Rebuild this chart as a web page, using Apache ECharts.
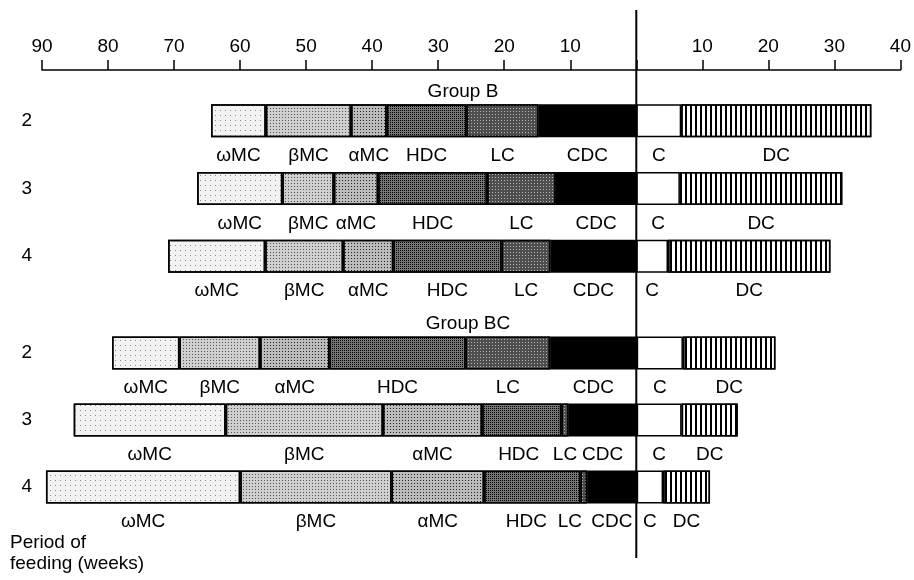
<!DOCTYPE html>
<html lang="en">
<head>
<meta charset="UTF-8">
<title>Period of feeding</title>
<style>
    html, body {
        margin: 0;
        padding: 0;
        background: #fff;
    }
    #main {
        width: 914px;
        height: 580px;
    }
</style>
</head>
<body>
<div id="main"></div>
<script src="https://cdn.jsdelivr.net/npm/echarts@6/dist/echarts.min.js"></script>
<script>
    // period of feeding (weeks) for each row of a group
    var rows = ['2', '3', '4'];
    var groups = ['Group B', 'Group BC'];
    // stages, left ones counted back from 0, right ones forward from 0
    var stages = ['ωMC', 'βMC', 'αMC', 'HDC', 'LC', 'CDC', 'C', 'DC'];
    var leftStages = ['ωMC', 'βMC', 'αMC', 'HDC', 'LC', 'CDC'];

    // length of every stage (weeks), in the order of stages
    var groupB2 = [8.3, 12.9, 5.4, 12.1, 10.9, 14.8, 6.8, 28.8];
    var groupB3 = [12.9, 7.8, 6.7, 16.5, 10.4, 12.2, 6.6, 24.6];
    var groupB4 = [14.7, 11.8, 7.6, 16.4, 7.4, 13.0, 4.8, 24.6];
    var groupBC2 = [10.2, 12.2, 10.5, 20.6, 12.8, 13.1, 7.0, 14.0];
    var groupBC3 = [23.0, 23.8, 15.0, 12.0, 1.1, 10.3, 6.8, 8.5];
    var groupBC4 = [29.4, 22.9, 14.0, 14.6, 1.0, 7.5, 4.0, 7.1];

    var groupRows = [[groupB2, groupB3, groupB4], [groupBC2, groupBC3, groupBC4]];

    var FONT = 'Liberation Sans, Arial, sans-serif';
    var FS = 19;

    // fill + texture of each stage
    var looks = {
        'ωMC': { color: '#f2f2f2', decal: { symbol: 'rect', symbolSize: 1, color: '#8a8a8a', dashArrayX: [1, 4], dashArrayY: [1, 4] } },
        'βMC': { color: '#cfcfcf', decal: { symbol: 'rect', symbolSize: 1, color: '#555', dashArrayX: [1, 2], dashArrayY: [1, 2] } },
        'αMC': { color: '#bcbcbc', decal: { symbol: 'rect', symbolSize: 1, color: '#222', dashArrayX: [1, 1.5], dashArrayY: [1, 1.5] } },
        'HDC': { color: '#767676', decal: { symbol: 'rect', symbolSize: 1, color: '#000', dashArrayX: [1, 1], dashArrayY: [1, 1] } },
        'LC': { color: '#4e4e4e', decal: { symbol: 'rect', symbolSize: 1, color: '#b8b8b8', dashArrayX: [1, 2], dashArrayY: [1, 2] } },
        'CDC': { color: '#000' },
        'C': { color: '#fff' },
        'DC': { color: '#fff', decal: { symbol: 'rect', symbolSize: 1, color: '#000', dashArrayX: [1.3, 2.5], dashArrayY: [10, 0] } }
    };

    // small sideways nudges for crowded labels: [group, row, stage, px]
    var labelNudges = [
        [1, 1, 'HDC', -3],
        [1, 2, 'HDC', -6],
        [1, 2, 'LC', -14],
        [1, 2, 'CDC', 0]
    ];

    // stack order: from 0 outwards on each side
    var stackOrder = ['CDC', 'LC', 'HDC', 'αMC', 'βMC', 'ωMC', 'C', 'DC'];

    function nudge(gi, ri, name) {
        for (var i = 0; i < labelNudges.length; i++) {
            var n = labelNudges[i];
            if (n[0] === gi && n[1] === ri && n[2] === name) return n[3];
        }
        return 0;
    }

    var series = [];
    groups.forEach(function (g, gi) {
        stackOrder.forEach(function (name) {
            var si = stages.indexOf(name);
            var sign = leftStages.indexOf(name) >= 0 ? -1 : 1;
            var itemStyle = {
                color: looks[name].color,
                borderColor: '#000',
                borderWidth: 1.5
            };
            if (looks[name].decal) {
                itemStyle.decal = looks[name].decal;
            }
            series.push({
                name: name,
                type: 'bar',
                xAxisIndex: gi,
                yAxisIndex: gi,
                stack: 'g' + gi,
                barWidth: 33,
                data: groupRows[gi].map(function (r, ri) {
                    var dx = nudge(gi, ri, name);
                    var item = { value: sign * r[si] };
                    if (dx) item.label = { offset: [dx, 0] };
                    return item;
                }),
                itemStyle: itemStyle,
                label: {
                    show: true,
                    position: 'bottom',
                    distance: 9,
                    formatter: name,
                    color: '#000',
                    fontSize: FS,
                    fontFamily: FONT
                },
                emphasis: { disabled: true },
                animation: false
            });
        });
    });

    var xAxisBase = {
        type: 'value',
        min: -90,
        max: 40,
        interval: 10,
        splitLine: { show: false }
    };

    var chart = echarts.init(document.getElementById('main'));
    chart.setOption({
        backgroundColor: '#fff',
        animation: false,
        title: [
            { text: groups[0], left: 458, top: 77, textAlign: 'center',
              textStyle: { fontSize: FS, fontWeight: 'normal', color: '#000', fontFamily: FONT } },
            { text: groups[1], left: 463, top: 309, textAlign: 'center',
              textStyle: { fontSize: FS, fontWeight: 'normal', color: '#000', fontFamily: FONT } },
            { text: 'Period of\nfeeding (weeks)', left: 5, top: 527,
              textStyle: { fontSize: FS, fontWeight: 'normal', color: '#000', fontFamily: FONT, lineHeight: 21 } }
        ],
        grid: [
            { left: 42, right: 13, top: 87, height: 203 },
            { left: 42, right: 13, top: 319.5, height: 201 }
        ],
        xAxis: [
            Object.assign({}, xAxisBase, {
                gridIndex: 0,
                position: 'top',
                offset: 17,
                axisLine: { show: true, lineStyle: { color: '#000', width: 1.5 } },
                axisTick: { show: true, length: 10, lineStyle: { color: '#000', width: 1.5 } },
                axisLabel: {
                    margin: 14,
                    fontSize: FS,
                    color: '#000',
                    fontFamily: FONT,
                    formatter: function (v) { return v === 0 ? '' : String(Math.abs(v)); }
                }
            }),
            Object.assign({}, xAxisBase, { gridIndex: 1, show: false })
        ],
        yAxis: [0, 1].map(function (gi) {
            return {
                type: 'category',
                gridIndex: gi,
                inverse: true,
                data: rows,
                axisLine: { show: false },
                axisTick: { show: false },
                axisLabel: { margin: 10, fontSize: FS, color: '#000', fontFamily: FONT }
            };
        }),
        series: series
    });

    // zero line, drawn through both groups
    var x0 = chart.convertToPixel({ xAxisIndex: 0 }, 0);
    chart.setOption({
        graphic: [{
            type: 'line',
            shape: { x1: x0, y1: 10, x2: x0, y2: 558 },
            style: { stroke: '#000', lineWidth: 2 },
            z: 100
        }]
    });
</script>
</body>
</html>
